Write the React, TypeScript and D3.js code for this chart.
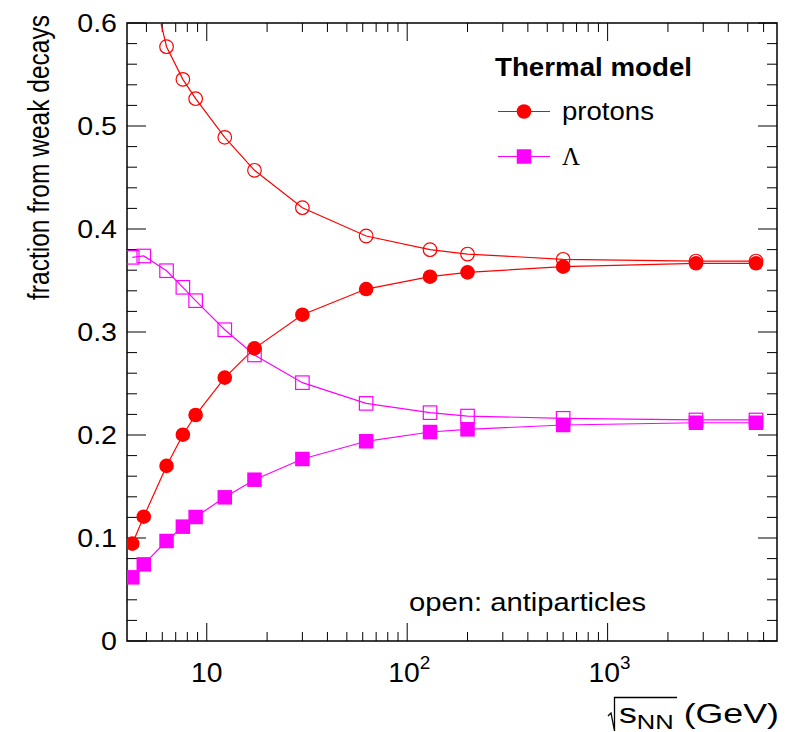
import React, { useRef, useEffect } from "react";
import * as d3 from "d3";

// collision energies sqrt(s_NN) in GeV
const energies = [4.25, 4.85, 6.3, 7.6, 8.8, 12.3, 17.3, 30, 62.4, 130, 200, 600, 2760, 5500];

// fraction from weak decays, thermal model
const protons = [0.0945, 0.1207, 0.17, 0.2003, 0.2194, 0.2557, 0.2841, 0.3168, 0.3417, 0.3537, 0.3579, 0.3634, 0.3667, 0.3667];
const antiprotons = [0.73, 0.67, 0.577, 0.5453, 0.5265, 0.489, 0.457, 0.4207, 0.3932, 0.3799, 0.3757, 0.3706, 0.3689, 0.3689];
const lambdas = [0.0618, 0.0744, 0.0971, 0.111, 0.1204, 0.1395, 0.1566, 0.1767, 0.1939, 0.2029, 0.2055, 0.2097, 0.2119, 0.2119];
const antilambdas = [0.3725, 0.3738, 0.3595, 0.3434, 0.3304, 0.3022, 0.2777, 0.2508, 0.2307, 0.2217, 0.2184, 0.2162, 0.2146, 0.2146];

const yMajorTicks = [0, 0.1, 0.2, 0.3, 0.4, 0.5, 0.6];
const yTickLabels = ["0", "0.1", "0.2", "0.3", "0.4", "0.5", "0.6"];
const xMajorTicks = [10, 100, 1000];
const xTickLabels = [
  { base: "10", exp: "" },
  { base: "10", exp: "2" },
  { base: "10", exp: "3" },
];

const RED = "#ff0000";
const MAGENTA = "#ff00ff";
const FONT = "Liberation Sans, Arial, Helvetica, sans-serif";

type TextSel = d3.Selection<SVGTextElement, unknown, null, undefined>;

// the reference fonts run a bit wider than Liberation Sans, so squeeze/stretch to fit
const fitWidth = (t: TextSel, target: number) => {
  t.attr("textLength", target).attr("lengthAdjust", "spacingAndGlyphs");
};
const stretch = (t: TextSel, factor: number) => {
  const w = (t.node() as SVGTextElement).getComputedTextLength();
  fitWidth(t, w * factor);
};

const App: React.FC = () => {
  const svgRef = useRef<SVGSVGElement | null>(null);
  const width = 792;
  const height = 732;

  useEffect(() => {
    if (!svgRef.current) return;
    d3.select(svgRef.current).selectAll("*").remove();

    const svg = d3.select(svgRef.current).attr("width", width).attr("height", height);

    const margin = { top: 23, right: 15, bottom: 91, left: 127 };
    const innerWidth = width - margin.left - margin.right;
    const innerHeight = height - margin.top - margin.bottom;

    const x = d3.scaleLog().domain([4, 7000]).range([0, innerWidth]);
    const y = d3.scaleLinear().domain([0, 0.6]).range([innerHeight, 0]);

    const g = svg.append("g").attr("transform", `translate(${margin.left},${margin.top})`);

    svg
      .append("defs")
      .append("clipPath")
      .attr("id", "plot-clip")
      .append("rect")
      .attr("width", innerWidth)
      .attr("height", innerHeight);

    // Ticks: x log axis, bottom and top
    const xTicks = x.ticks().filter((t) => t > 4 && t < 7000);
    xTicks.forEach((t) => {
      const major = Math.abs(Math.log10(t) - Math.round(Math.log10(t))) < 1e-9;
      const len = major ? 18 : 9;
      const px = x(t);
      g.append("line").attr("x1", px).attr("x2", px).attr("y1", innerHeight).attr("y2", innerHeight - len).attr("stroke", "#000");
      g.append("line").attr("x1", px).attr("x2", px).attr("y1", 0).attr("y2", len).attr("stroke", "#000");
    });

    // Ticks: y axis, left and right
    d3.range(0, 31).forEach((i) => {
      const v = i * 0.02;
      const major = i % 5 === 0;
      const len = major ? 19 : 10;
      const py = y(v);
      g.append("line").attr("x1", 0).attr("x2", len).attr("y1", py).attr("y2", py).attr("stroke", "#000");
      g.append("line").attr("x1", innerWidth).attr("x2", innerWidth - len).attr("y1", py).attr("y2", py).attr("stroke", "#000");
    });

    // Frame
    g.append("rect")
      .attr("width", innerWidth)
      .attr("height", innerHeight)
      .attr("fill", "none")
      .attr("stroke", "#000")
      .attr("stroke-width", 1.5);

    // Y tick labels
    yMajorTicks.forEach((v, i) => {
      const t = g
        .append("text")
        .attr("x", -10)
        .attr("y", y(v))
        .attr("dy", "0.36em")
        .attr("text-anchor", "end")
        .attr("font-family", FONT)
        .attr("font-size", 26)
        .text(yTickLabels[i]);
      stretch(t, 1.1);
    });

    // X tick labels
    xMajorTicks.forEach((v, i) => {
      const lab = xTickLabels[i];
      const t = g
        .append("text")
        .attr("x", x(v) + (lab.exp ? 2 : 0))
        .attr("y", innerHeight + 41)
        .attr("text-anchor", "middle")
        .attr("font-family", FONT)
        .attr("font-size", 27);
      t.append("tspan").text(lab.base);
      if (lab.exp) t.append("tspan").attr("dy", -13).attr("font-size", 18).text(lab.exp);
      stretch(t, 1.05);
    });

    // Axis titles (y title condensed to the reference's length)
    const yt = svg
      .append("text")
      .attr("text-anchor", "end")
      .attr("font-family", FONT)
      .attr("font-size", 29)
      .text("fraction from weak decays");
    const ytw = (yt.node() as SVGTextElement).getComputedTextLength();
    yt.attr("transform", `translate(49,15) rotate(-90) scale(${285 / ytw},1)`);

    const xt = svg
      .append("text")
      .attr("x", 619)
      .attr("y", 723)
      .attr("font-family", FONT)
      .attr("font-size", 28);
    xt.append("tspan").text("s");
    xt.append("tspan").attr("dy", 6).attr("font-size", 20).text("NN");
    xt.append("tspan").attr("dy", -6).text(" (GeV)");
    fitWidth(xt, 160);

    // square-root sign over s_NN
    svg
      .append("path")
      .attr("d", "M608,716 L611,713 L614.5,731 L614.5,697.5 L677,697.5")
      .attr("fill", "none")
      .attr("stroke", "#000")
      .attr("stroke-width", 1.3);

    // Data
    const plot = g.append("g").attr("clip-path", "url(#plot-clip)");
    const line = d3
      .line<number>()
      .x((_, i) => x(energies[i]))
      .y((d) => y(d));

    const series = [
      { values: antiprotons, color: RED, shape: "circle", filled: false },
      { values: antilambdas, color: MAGENTA, shape: "square", filled: false },
      { values: protons, color: RED, shape: "circle", filled: true },
      { values: lambdas, color: MAGENTA, shape: "square", filled: true },
    ];

    series.forEach((s) => {
      plot.append("path").attr("d", line(s.values)).attr("fill", "none").attr("stroke", s.color).attr("stroke-width", 1.2);
    });

    const drawMarker = (
      sel: d3.Selection<SVGGElement, unknown, null, undefined>,
      cx: number,
      cy: number,
      shape: string,
      color: string,
      filled: boolean
    ) => {
      if (shape === "circle") {
        sel.append("circle")
          .attr("cx", cx)
          .attr("cy", cy)
          .attr("r", filled ? 7.3 : 6.8)
          .attr("fill", filled ? color : "none")
          .attr("stroke", color)
          .attr("stroke-width", filled ? 0 : 1.2);
      } else {
        const s = filled ? 14.5 : 13.5;
        sel.append("rect")
          .attr("x", cx - s / 2)
          .attr("y", cy - s / 2)
          .attr("width", s)
          .attr("height", s)
          .attr("fill", filled ? color : "none")
          .attr("stroke", color)
          .attr("stroke-width", filled ? 0 : 1.2);
      }
    };

    series.forEach((s) => {
      s.values.forEach((v, i) => drawMarker(plot, x(energies[i]), y(v), s.shape, s.color, s.filled));
    });

    // Legend
    const title = svg
      .append("text")
      .attr("x", 495)
      .attr("y", 76)
      .attr("font-family", FONT)
      .attr("font-weight", "bold")
      .attr("font-size", 25)
      .text("Thermal model");
    fitWidth(title, 197);

    const legend = svg.append("g");
    const rows = [
      { label: "protons", color: RED, shape: "circle", y: 111.5, serif: false, w: 92 },
      { label: "Λ", color: MAGENTA, shape: "square", y: 156.5, serif: true, w: 18 },
    ];
    rows.forEach((r) => {
      legend.append("line").attr("x1", 498).attr("x2", 550).attr("y1", r.y).attr("y2", r.y).attr("stroke", r.color).attr("stroke-width", 1.2);
      drawMarker(legend, 524, r.y, r.shape, r.color, true);
      const t = legend
        .append("text")
        .attr("x", 562)
        .attr("y", r.y + 8)
        .attr("font-family", r.serif ? "Liberation Serif, Times New Roman, serif" : FONT)
        .attr("font-size", 25)
        .text(r.label);
      fitWidth(t, r.w);
    });

    const note = svg
      .append("text")
      .attr("x", 409)
      .attr("y", 611)
      .attr("font-family", FONT)
      .attr("font-size", 25)
      .text("open: antiparticles");
    fitWidth(note, 237);
  }, []);

  return <svg ref={svgRef} style={{ position: "absolute", left: 0, top: 0 }}></svg>;
};

export default App;
